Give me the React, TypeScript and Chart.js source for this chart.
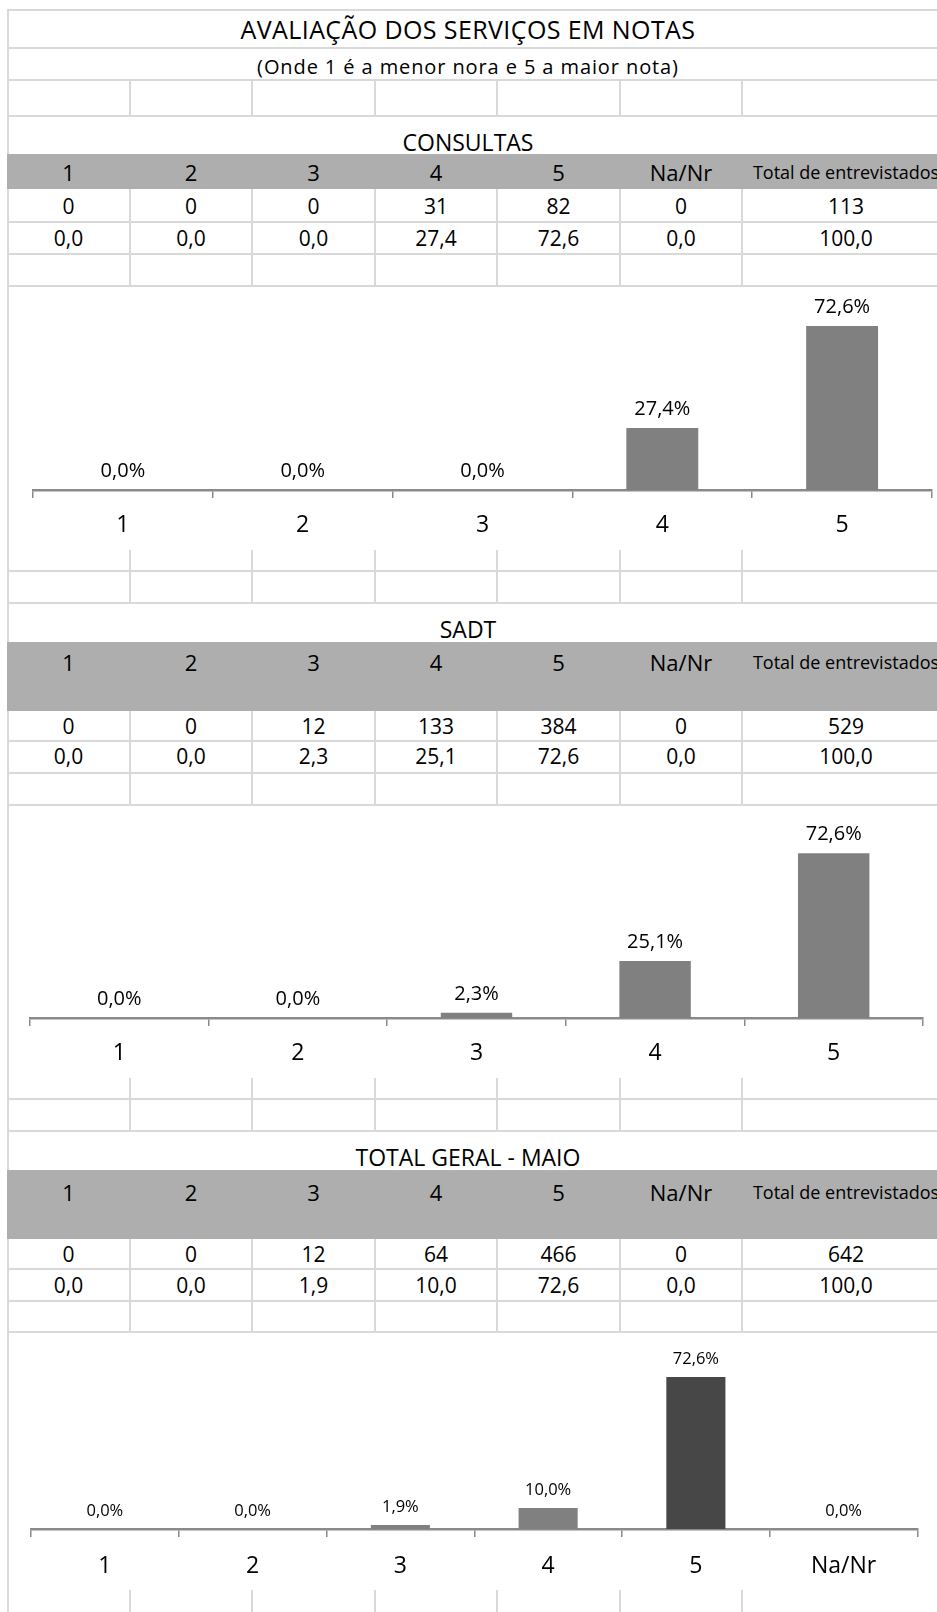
import React, { useEffect, useRef } from "react";
import { Chart, registerables } from "chart.js";

Chart.register(...registerables);

// ---------- data ----------
const TITLE = "AVALIAÇÃO DOS SERVIÇOS EM NOTAS";
const SUBTITLE = "(Onde 1 é a menor nora e 5 a maior nota)";
const HEADERS = ["1", "2", "3", "4", "5", "Na/Nr", "Total de entrevistados"];

const consultasTitle = "CONSULTAS";
const consultasCounts = [0, 0, 0, 31, 82, 0, 113];
const consultasPct = [0.0, 0.0, 0.0, 27.4, 72.6, 0.0, 100.0];

const sadtTitle = "SADT";
const sadtCounts = [0, 0, 12, 133, 384, 0, 529];
const sadtPct = [0.0, 0.0, 2.3, 25.1, 72.6, 0.0, 100.0];

const totalTitle = "TOTAL GERAL - MAIO";
const totalCounts = [0, 0, 12, 64, 466, 0, 642];
const totalPct = [0.0, 0.0, 1.9, 10.0, 72.6, 0.0, 100.0];

const notasLabels = ["1", "2", "3", "4", "5"];
const notasLabelsTotal = ["1", "2", "3", "4", "5", "Na/Nr"];
const consultasChart = [0.0, 0.0, 0.0, 27.4, 72.6];
const sadtChart = [0.0, 0.0, 2.3, 25.1, 72.6];
const totalChart = [0.0, 0.0, 1.9, 10.0, 72.6, 0.0];

// ---------- style ----------
const FONT = "'Open Sans', 'Noto Sans', sans-serif";
const LINE = "#d9d9d9";
const GRAY = "#aeaeae";
const BAR = "#808080";
const BAR_DARK = "#474747";
const COL_X = [7, 130, 252, 375, 497, 620, 742, 950];

const fmt = (v: number) => v.toFixed(1).replace(".", ",");

function hLine(y: number, key: string) {
  return (
    <div key={key} style={{ position: "absolute", left: 7, top: y - 1, width: 930, height: 2, background: LINE }} />
  );
}
function colLines(y1: number, y2: number, key: string) {
  return COL_X.slice(1, 7).map((x, i) => (
    <div key={key + i} style={{ position: "absolute", left: x - 1, top: y1, width: 2, height: y2 - y1, background: LINE }} />
  ));
}
function centerText(text: string, cy: number, size: number, key: string, extra: any = {}) {
  const h = 40;
  return (
    <div key={key} style={{ position: "absolute", left: 7, width: 922, top: cy - h / 2, height: h, lineHeight: h + "px", textAlign: "center", fontSize: size, whiteSpace: "nowrap", ...extra }}>
      {text}
    </div>
  );
}
function rowTexts(values: string[], cy: number, size: number, key: string, lastSize?: number) {
  const h = 40;
  return values.map((t, i) => (
    <div key={key + i} style={{ position: "absolute", left: COL_X[i], width: COL_X[i + 1] - COL_X[i], top: cy - h / 2, height: h, lineHeight: h + "px", textAlign: "center", fontSize: i === 6 && lastSize ? lastSize : size, whiteSpace: "nowrap", display: "flex", justifyContent: "center" }}>
      <span>{t}</span>
    </div>
  ));
}
function grayBand(y1: number, y2: number, key: string) {
  return <div key={key} style={{ position: "absolute", left: 7, top: y1, width: 930, height: y2 - y1, background: GRAY }} />;
}

type ChartProps = {
  top: number; height: number; labels: string[]; values: number[]; colors: string[];
  padL: number; padR: number; padT: number; axisH: number; labelSize: number; tickPad: number; gap: number;
};

function BarChart(p: ChartProps) {
  const ref = useRef<HTMLCanvasElement>(null);
  useEffect(() => {
    const labelPlugin = {
      id: "valueLabels",
      afterDatasetsDraw(chart: any) {
        const ctx = chart.ctx;
        const meta = chart.getDatasetMeta(0);
        ctx.save();
        ctx.fillStyle = "#000";
        ctx.font = `${p.labelSize}px ${FONT}`;
        ctx.textAlign = "center";
        ctx.textBaseline = "alphabetic";
        meta.data.forEach((el: any, i: number) => {
          const v = chart.data.datasets[0].data[i] as number;
          ctx.fillText(fmt(v) + "%", el.x, el.y - p.gap);
        });
        ctx.restore();
      },
    };
    const chart = new Chart(ref.current!, {
      type: "bar",
      data: {
        labels: p.labels,
        datasets: [{ data: p.values, backgroundColor: p.colors, borderWidth: 0, barPercentage: 0.4, categoryPercentage: 1.0 }],
      },
      options: {
        animation: false,
        responsive: true,
        maintainAspectRatio: false,
        layout: { padding: { left: p.padL, right: p.padR, top: p.padT, bottom: 0 } },
        plugins: { legend: { display: false }, tooltip: { enabled: false } },
        scales: {
          x: {
            grid: { drawOnChartArea: false, drawTicks: true, tickLength: 8, color: "#8a8a8a", lineWidth: 1.5, offset: true },
            border: { display: true, color: "#8a8a8a", width: 2.5 },
            ticks: { color: "#000", font: { family: FONT, size: 23 }, padding: p.tickPad, maxRotation: 0 },
            afterFit: (s: any) => { s.height = p.axisH; },
          },
          y: { display: false, min: 0, max: 80 },
        },
      } as any,
      plugins: [labelPlugin],
    });
    return () => chart.destroy();
  }, []);
  return (
    <div style={{ position: "absolute", left: 10, top: p.top, width: 927, height: p.height, background: "#fff" }}>
      <canvas ref={ref} />
    </div>
  );
}

export default function App() {
  const els: any[] = [];
  // left border + top
  els.push(<div key="lb" style={{ position: "absolute", left: 7, top: 9, width: 2, height: 1603, background: LINE }} />);
  els.push(hLine(10, "t0"));
  els.push(centerText(TITLE, 29, 25, "title", { letterSpacing: "0.4px" }));
  els.push(hLine(48, "t1"));
  els.push(centerText(SUBTITLE, 67, 20, "sub", { letterSpacing: "0.9px" }));
  els.push(hLine(80, "t2"));
  els.push(...colLines(80, 116, "c0"));
  els.push(hLine(116, "t3"));

  // CONSULTAS
  els.push(centerText(consultasTitle, 142, 23, "s1"));
  els.push(grayBand(154, 189, "g1"));
  els.push(...rowTexts(HEADERS, 172, 22, "h1", 18));
  els.push(...colLines(189, 286, "c1"));
  els.push(...rowTexts(consultasCounts.map(String), 206, 21, "r1a"));
  els.push(hLine(222, "l1a"));
  els.push(...rowTexts(consultasPct.map(fmt), 238, 21, "r1b"));
  els.push(hLine(254, "l1b"));
  els.push(hLine(286, "l1c"));
  els.push(...colLines(550, 603, "c1d"));
  els.push(hLine(571, "l1d"));
  els.push(hLine(603, "l1e"));

  // SADT
  els.push(centerText(sadtTitle, 629, 23, "s2"));
  els.push(grayBand(642, 711, "g2"));
  els.push(...rowTexts(HEADERS, 662, 22, "h2", 18));
  els.push(...colLines(711, 805, "c2"));
  els.push(...rowTexts(sadtCounts.map(String), 726, 21, "r2a"));
  els.push(hLine(741, "l2a"));
  els.push(...rowTexts(sadtPct.map(fmt), 756, 21, "r2b"));
  els.push(hLine(773, "l2b"));
  els.push(hLine(805, "l2c"));
  els.push(...colLines(1078, 1131, "c2d"));
  els.push(hLine(1099, "l2d"));
  els.push(hLine(1131, "l2e"));

  // TOTAL
  els.push(centerText(totalTitle, 1157, 23, "s3"));
  els.push(grayBand(1170, 1239, "g3"));
  els.push(...rowTexts(HEADERS, 1192, 22, "h3", 18));
  els.push(...colLines(1239, 1332, "c3"));
  els.push(...rowTexts(totalCounts.map(String), 1254, 21, "r3a"));
  els.push(hLine(1269, "l3a"));
  els.push(...rowTexts(totalPct.map(fmt), 1285, 21, "r3b"));
  els.push(hLine(1301, "l3b"));
  els.push(hLine(1332, "l3c"));
  els.push(...colLines(1590, 1612, "c3d"));

  return (
    <div style={{ position: "absolute", left: 0, top: 0, width: 937, height: 1612, overflow: "hidden", background: "#fff", fontFamily: FONT, color: "#000" }}>
      {els}
      <BarChart top={287} height={263} labels={notasLabels} values={consultasChart} colors={consultasChart.map(() => BAR)}
        padL={23} padR={5} padT={22.3} axisH={60} labelSize={20} tickPad={14} gap={13} />
      <BarChart top={806} height={272} labels={notasLabels} values={sadtChart} colors={sadtChart.map(() => BAR)}
        padL={20} padR={14} padT={30.4} axisH={60} labelSize={20} tickPad={14} gap={13} />
      <BarChart top={1333} height={257} labels={notasLabelsTotal} values={totalChart} colors={totalChart.map((_, i) => (i === 4 ? BAR_DARK : BAR))}
        padL={21} padR={19.5} padT={28.5} axisH={61} labelSize={16.5} tickPad={16} gap={13} />
    </div>
  );
}
